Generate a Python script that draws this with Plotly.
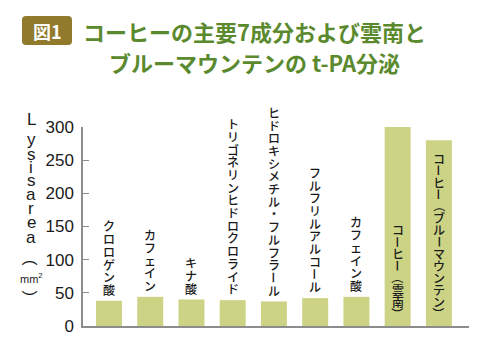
import plotly.graph_objects as go

# ---- data ----
categories = [
    "クロロゲン酸", "カフェイン", "キナ酸", "トリゴネリンヒドロクロライド",
    "ヒドロキシメチル・フルフラール", "フルフリルアルコール", "カフェイン酸",
    "コーヒー（雲南）", "コーヒー（ブルーマウンテン）",
]
values = [38, 44, 40, 39, 37, 42, 44, 300, 280]
label_inside = [False, False, False, False, False, False, False, True, True]
y_ticks = [0, 50, 100, 150, 200, 250, 300]
y_title_chars = ["L", "y", "s", "i", "s", "a", "r", "e", "a", "（", "mm<sup>2</sup>", "）"]
title_line1 = "コーヒーの主要7成分および雲南と"
title_line2 = "ブルーマウンテンの t-PA分泌"
badge_text = "図1"

# ---- layout geometry ----
W, H = 490, 364
ML, MR, MT, MB = 83, 21, 127, 38
PW, PH = W - ML - MR, H - MT - MB


def px_x(px):
    return (px - ML) / PW


def px_y(py):
    return (H - MB - py) / PH


BAR = "#cdd384"
AXIS = "#8c8c8c"
JP = "Noto Sans CJK JP"
LAT = "Liberation Sans, Arial"
ROTATE = set("ー（）")  # glyphs turned 90° in vertical writing

fig = go.Figure()
fig.add_trace(go.Bar(
    x=list(range(len(categories))), y=values,
    marker=dict(color=BAR, line=dict(width=0)),
    hoverinfo="skip", cliponaxis=False,
))

annotations = []
# vertical labels, one glyph per annotation, stacked upward from the anchor
for i, (cat, v, inside) in enumerate(zip(categories, values, label_inside)):
    step = 11.9 if inside else 12.7
    gap = 7 if inside else 5
    n = len(cat)
    for k, ch in enumerate(cat):
        pos_from_bottom = n - 1 - k
        annotations.append(dict(
            x=i, y=0 if inside else v, xref="x", yref="y",
            text=ch, showarrow=False, textangle=90 if ch in ROTATE else 0,
            xanchor="center", yanchor="middle",
            yshift=gap + pos_from_bottom * step + step / 2,
            font=dict(family=JP, size=12, color="#1a1a1a", weight=500),
        ))

# y-axis title, stacked vertically one character per row (pixel centres)
y_title_centres = [119, 139, 154, 167, 180, 194, 208, 222, 237, 258, 278, 298]
for ch, cy in zip(y_title_chars, y_title_centres):
    is_small = "mm" in ch
    is_paren = ch in ROTATE
    annotations.append(dict(
        x=px_x(31), y=px_y(cy), xref="paper", yref="paper",
        text=ch, showarrow=False, xanchor="center", yanchor="middle",
        textangle=90 if is_paren else 0,
        font=dict(family=JP if is_paren else LAT,
                  size=11 if is_small else (16 if is_paren else 17),
                  color="#1a1a1a"),
    ))

# title
for txt, py in ((title_line1, 31), (title_line2, 62)):
    annotations.append(dict(
        x=px_x(254), y=px_y(py), xref="paper", yref="paper", text=f"<b>{txt}</b>",
        showarrow=False, xanchor="center", yanchor="middle",
        font=dict(family=JP, size=22, color="#5b8a2e"),
    ))
annotations.append(dict(
    x=px_x(47), y=px_y(31), xref="paper", yref="paper", text=f"<b>{badge_text}</b>",
    showarrow=False, xanchor="center", yanchor="middle",
    font=dict(family=JP, size=18, color="white"),
))

# badge rounded rectangle
bx0, bx1, by0, by1, r = 22, 72, 16, 45, 4
path = (
    f"M {px_x(bx0 + r)} {px_y(by0)} L {px_x(bx1 - r)} {px_y(by0)} "
    f"Q {px_x(bx1)} {px_y(by0)} {px_x(bx1)} {px_y(by0 + r)} "
    f"L {px_x(bx1)} {px_y(by1 - r)} Q {px_x(bx1)} {px_y(by1)} {px_x(bx1 - r)} {px_y(by1)} "
    f"L {px_x(bx0 + r)} {px_y(by1)} Q {px_x(bx0)} {px_y(by1)} {px_x(bx0)} {px_y(by1 - r)} "
    f"L {px_x(bx0)} {px_y(by0 + r)} Q {px_x(bx0)} {px_y(by0)} {px_x(bx0 + r)} {px_y(by0)} Z"
)
shapes = [dict(type="path", xref="paper", yref="paper", path=path,
               fillcolor="#917a2b", line=dict(width=0), layer="below")]

fig.update_layout(
    width=W, height=H,
    margin=dict(l=ML, r=MR, t=MT, b=MB, pad=0, autoexpand=False),
    plot_bgcolor="white", paper_bgcolor="white",
    showlegend=False, bargap=0.37,
    annotations=annotations, shapes=shapes,
    xaxis=dict(range=[-0.63, 8.73], showticklabels=False, ticks="",
               showgrid=False, zeroline=False, showline=True, automargin=False,
               linecolor=AXIS, linewidth=1.5, fixedrange=True),
    yaxis=dict(range=[0, 300], tickvals=y_ticks, ticks="inside", ticklen=6,
               tickcolor=AXIS, tickwidth=1, showgrid=False, zeroline=False,
               showline=True, linecolor=AXIS, linewidth=1.5, automargin=False,
               ticklabelstandoff=4,
               tickfont=dict(family=LAT, size=17, color="#1a1a1a"),
               fixedrange=True),
)

fig.write_html("out.html", config={"displayModeBar": False},
               post_script="document.body.style.margin='0';document.body.style.overflow='hidden';")
